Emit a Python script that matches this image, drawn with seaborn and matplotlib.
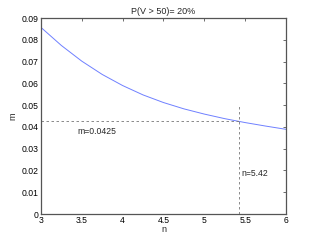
import numpy as np
import pandas as pd
import matplotlib
matplotlib.use("Agg")
import matplotlib.pyplot as plt
import seaborn as sns

# values
n_vals = [3.00, 3.25, 3.50, 3.75, 4.00, 4.25, 4.50, 4.75, 5.00, 5.25, 5.50, 5.75, 6.00]
m_vals = [0.0857, 0.0774, 0.0702, 0.0641, 0.0590, 0.0547, 0.0512, 0.0483,
          0.0459, 0.0438, 0.0420, 0.0404, 0.0389]

n_star = 5.42
m_star = 0.0425
x_ticks = [3, 3.5, 4, 4.5, 5, 5.5, 6]
x_tick_labels = ["3", "3.5", "4", "4.5", "5", "5.5", "6"]
y_ticks = [0, 0.01, 0.02, 0.03, 0.04, 0.05, 0.06, 0.07, 0.08, 0.09]
y_tick_labels = ["0", "0.01", "0.02", "0.03", "0.04", "0.05", "0.06", "0.07", "0.08", "0.09"]

df = pd.DataFrame({"n": n_vals, "m": m_vals})

sns.set_style("white")
plt.rcParams['font.family'] = ['Liberation Sans', 'DejaVu Sans']

fig = plt.figure(figsize=(3.16, 2.41), dpi=100)
ax = fig.add_axes([0.1297, 0.112, 0.7753, 0.813])

sns.lineplot(data=df, x="n", y="m", ax=ax, color='#6f80ff', linewidth=0.7)

ax.plot([3, n_star], [m_star, m_star], linestyle=(0, (3, 3)), color='#777777', linewidth=0.6)
ax.plot([n_star, n_star], [0, 0.050], linestyle=(0, (3, 3)), color='#777777', linewidth=0.6)
ax.text(3.45, 0.0380, "m=0.0425", fontsize=6.2, va='center', ha='left')
ax.text(5.46, 0.0184, "n=5.42", fontsize=6.2, va='center', ha='left')

ax.set_xlim(3, 6)
ax.set_ylim(0, 0.09)
ax.set_xticks(x_ticks)
ax.set_xticklabels(x_tick_labels)
ax.set_yticks(y_ticks)
ax.set_yticklabels(y_tick_labels)
ax.tick_params(direction='in', length=2.5, width=0.5, labelsize=6.2, pad=1.5,
               top=True, right=True, colors='#333333', labelcolor='black')
for s in ax.spines.values():
    s.set_color('#555555')
    s.set_linewidth(0.9)

ax.set_title("P(V > 50)= 20%", fontsize=6.5, pad=3)
ax.set_xlabel("n", fontsize=6.5, labelpad=0)
ax.set_ylabel("m", fontsize=6.5, labelpad=3)

fig.savefig("out.png", dpi=100)
